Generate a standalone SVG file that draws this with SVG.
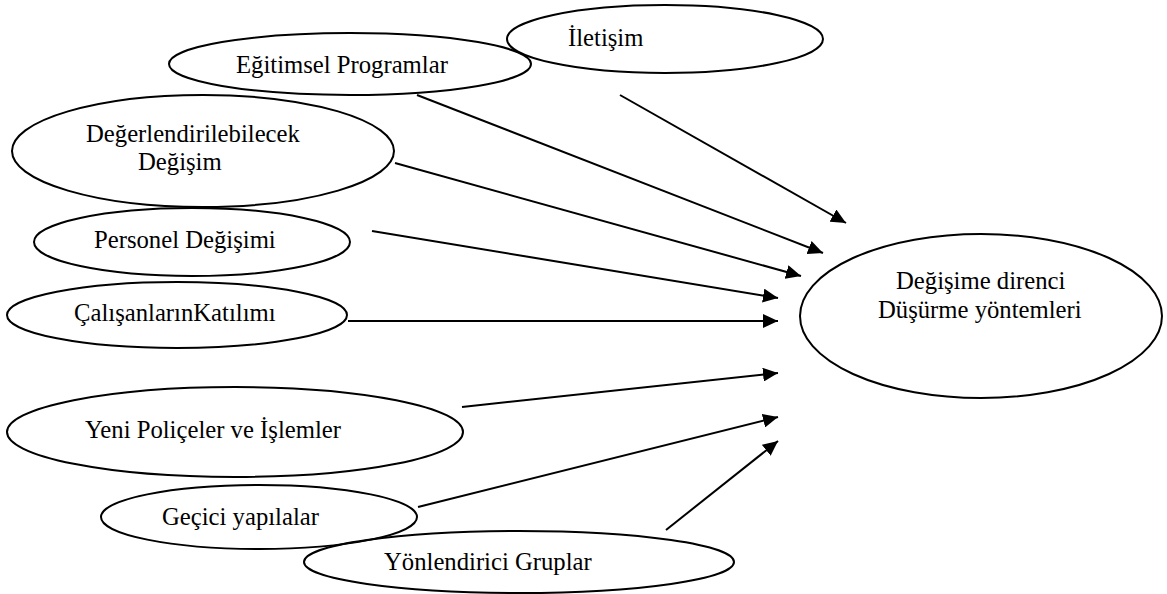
<svg xmlns="http://www.w3.org/2000/svg" width="1167" height="594" viewBox="0 0 1167 594">
<style>
.n ellipse{fill:none;stroke:#000;stroke-width:2}
text{font-family:"Liberation Serif","Times New Roman",serif;font-size:24.7px;fill:#000}
.c line{stroke:#000;stroke-width:2;marker-end:url(#ah)}
</style>
<defs>
<marker id="ah" markerUnits="userSpaceOnUse" markerWidth="15" markerHeight="14" refX="15" refY="7" orient="auto">
<path d="M0,0 L15,7 L0,14 Z" fill="#000"/>
</marker>
</defs>
<rect width="1167" height="594" fill="#fff"/>
<g id="iletisim" class="n"><ellipse cx="665" cy="39" rx="158" ry="34"/><text x="568" y="46">İletişim</text></g>
<g id="egitimsel" class="n"><ellipse cx="350" cy="64" rx="181" ry="31"/><text x="236" y="73">Eğitimsel Programlar</text></g>
<g id="degerlendirilebilecek" class="n"><ellipse cx="203" cy="151" rx="191" ry="56"/><text x="86" y="142">Değerlendirilebilecek</text><text x="138" y="170">Değişim</text></g>
<g id="personel" class="n"><ellipse cx="192" cy="242" rx="158" ry="34"/><text x="94" y="248">Personel Değişimi</text></g>
<g id="calisanlar" class="n"><ellipse cx="177" cy="315" rx="170" ry="33"/><text x="74" y="321">ÇalışanlarınKatılımı</text></g>
<g id="yeni" class="n"><ellipse cx="235" cy="432" rx="228" ry="45"/><text x="85" y="438">Yeni Poliçeler ve İşlemler</text></g>
<g id="gecici" class="n"><ellipse cx="259" cy="517" rx="158" ry="32"/><text x="162" y="525">Geçici yapılalar</text></g>
<g id="yonlendirici" class="n"><ellipse cx="519" cy="562" rx="215" ry="31"/><text x="384" y="570">Yönlendirici Gruplar</text></g>
<g id="hedef" class="n"><ellipse cx="981" cy="316" rx="181" ry="82"/><text x="896" y="289">Değişime direnci</text><text x="878" y="318">Düşürme yöntemleri</text></g>
<g id="connectors" class="c">
<line x1="620" y1="95" x2="846" y2="223"/>
<line x1="417" y1="95" x2="823" y2="253"/>
<line x1="395" y1="163" x2="801" y2="276"/>
<line x1="372" y1="231" x2="778" y2="298"/>
<line x1="348" y1="321" x2="778" y2="321"/>
<line x1="462" y1="407" x2="778" y2="373"/>
<line x1="418" y1="507" x2="778" y2="417"/>
<line x1="666" y1="530" x2="778" y2="441"/>
</g>
</svg>
